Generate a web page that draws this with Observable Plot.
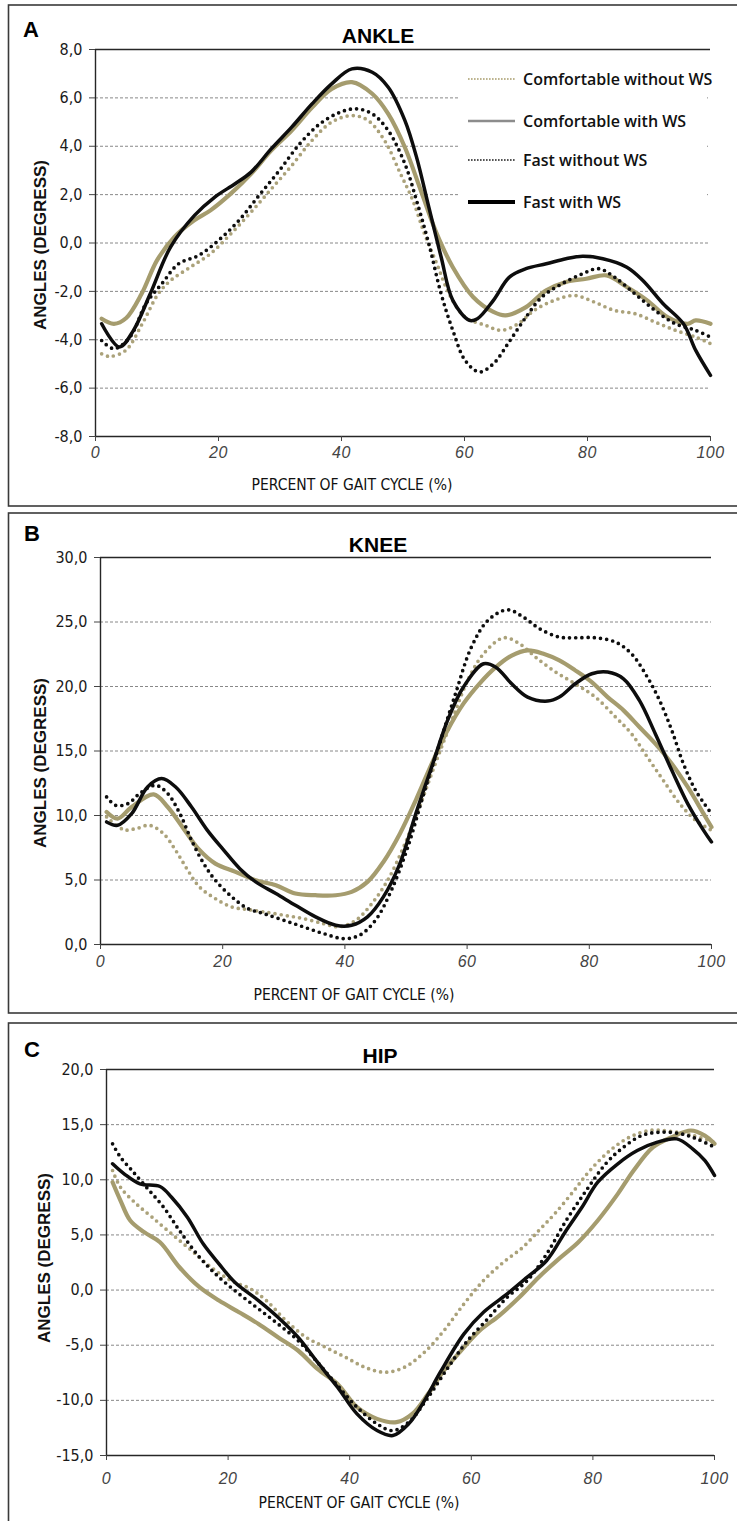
<!DOCTYPE html>
<html><head><meta charset="utf-8">
<script src="https://cdn.jsdelivr.net/npm/d3@7"></script>
<script src="https://cdn.jsdelivr.net/npm/@observablehq/plot@0.6"></script>
<style>
html,body{margin:0;padding:0;background:#fff;overflow:hidden;}
#page{position:relative;width:737px;height:1521px;overflow:hidden;}
#page svg.plotsvg{position:absolute;left:0;}
#overlay{position:absolute;left:0;top:0;pointer-events:none;}
.yt text{font-family:"Liberation Sans Narrow","Arial Narrow","DejaVu Sans Condensed",sans-serif;font-size:16px;fill:#1a1a1a;}
.xt text{font-family:"Liberation Sans",Arial,sans-serif;font-size:16px;font-style:italic;fill:#444;letter-spacing:0.5px;}
</style>
</head><body><div id="page"></div>
<script>
// ---------- DATA ----------
const seriesNames = ["Comfortable without WS","Comfortable with WS","Fast without WS","Fast with WS"];
const xTicks = [0,20,40,60,80,100];
const ankleTicks = [-8,-6,-4,-2,0,2,4,6,8];
const kneeTicks = [0,5,10,15,20,25,30];
const hipTicks = [-15,-10,-5,0,5,10,15,20];

const ankleComfWithout = [[1,-4.58],[2.3,-4.69],[4.9,-4.44],[7.6,-3.34],[10.2,-2.1],[12.2,-1.55],[15.4,-1.0],[18.7,-0.44],[22,0.38],[25.3,1.28],[28.6,2.24],[31.9,3.2],[35.2,4.24],[38.4,5.0],[41.7,5.27],[44.3,5.07],[47,4.24],[49.6,2.86],[51.6,1.76],[53.5,0.38],[55.5,-0.86],[57.5,-2.1],[60.1,-3.06],[63.4,-3.4],[66,-3.61],[68.7,-3.34],[71.3,-2.79],[74.6,-2.37],[77.9,-2.17],[81.1,-2.44],[84.4,-2.79],[87.7,-2.92],[91,-3.27],[94.3,-3.61],[97.6,-3.89],[100,-4.16]];
const ankleComfWith = [[1,-3.13],[3,-3.34],[5,-3.1],[7.5,-2.1],[10,-0.72],[12.8,0.24],[16,0.93],[18.7,1.35],[22,2.04],[25.3,2.86],[28.6,3.83],[31.9,4.65],[35.2,5.6],[38.4,6.37],[41.7,6.65],[45,6.17],[47.6,5.34],[50.3,3.96],[52.9,2.17],[55.5,0.38],[58.1,-1.0],[61.4,-2.23],[64.7,-2.85],[66.7,-2.99],[70,-2.65],[73.3,-1.96],[76.5,-1.61],[79.8,-1.48],[83.1,-1.34],[86.4,-1.82],[89.7,-2.37],[93,-3.06],[96.3,-3.34],[97.6,-3.2],[100,-3.34]];
const ankleFastWithout = [[1,-4.03],[3,-4.37],[5.6,-3.89],[8.2,-2.51],[10.8,-1.68],[13.5,-0.86],[16.8,-0.51],[20,0.11],[23.3,0.93],[26.6,1.97],[29.9,3.0],[33.2,4.1],[36.5,4.93],[39.8,5.41],[42.4,5.55],[45,5.34],[47.6,4.65],[50.3,3.28],[52.2,1.76],[54.2,-0.03],[56.2,-2.1],[58.1,-3.61],[60.1,-4.85],[62.4,-5.33],[64.7,-4.99],[67.4,-4.03],[70,-3.06],[72.6,-2.23],[75.9,-1.68],[79.2,-1.27],[81.8,-1.06],[84.4,-1.41],[87.7,-2.1],[91,-2.79],[94.3,-3.34],[97.6,-3.61],[100,-3.89]];
const ankleFastWith = [[1,-3.34],[3.9,-4.3],[6.2,-3.6],[8.9,-2.1],[12.2,-0.17],[16.1,1.14],[19.4,1.9],[22.7,2.45],[25.3,2.93],[28.6,3.9],[31.9,4.79],[35.2,5.75],[38.4,6.58],[41.7,7.2],[45,7.06],[47.6,6.44],[50.3,5.07],[52.2,3.55],[54.2,1.48],[56.2,-0.58],[58.1,-2.37],[60.8,-3.2],[62.1,-3.13],[64.7,-2.37],[67.3,-1.41],[70,-1.06],[73.3,-0.86],[76.5,-0.65],[79.2,-0.55],[82.5,-0.65],[86.4,-1.0],[89,-1.55],[92.3,-2.51],[95.6,-3.34],[97.6,-4.44],[100,-5.47]];

const kneeComfWithout = [[1,9.89],[3.8,8.9],[5.8,8.98],[8,9.24],[10.3,8.6],[12.3,7.3],[14.3,5.75],[16.2,4.46],[18.8,3.56],[21.5,2.91],[24.1,2.71],[26.7,2.53],[30,2.27],[33.2,2.01],[36.5,1.62],[39.1,1.37],[41.8,1.88],[44.4,3.17],[47,4.98],[49.6,7.56],[52.2,10.66],[54.8,14.02],[57.5,17.37],[60.1,20.47],[62.7,22.54],[66,23.78],[68.6,23.31],[71.2,22.28],[74.5,21.12],[77.7,20.21],[81,19.18],[84.3,17.63],[86.9,16.34],[89.5,14.53],[92.1,12.73],[94.8,10.92],[97.4,9.63],[100,8.85]];
const kneeComfWith = [[1,10.27],[2.8,9.76],[5.1,10.66],[8.7,11.64],[11,10.66],[13.6,8.98],[16,7.43],[18.8,6.27],[22.1,5.63],[25.4,4.98],[28.7,4.59],[31.9,3.95],[35.2,3.82],[38.5,3.82],[41.1,4.08],[43.7,4.85],[46.3,6.4],[49,8.59],[51.6,11.18],[54.2,14.0],[56.8,16.6],[59.4,18.67],[62,20.21],[64.7,21.5],[67.3,22.4],[69.9,22.8],[72.5,22.54],[75.1,22.02],[77.7,21.25],[80.4,20.34],[83,19.18],[85.6,18.15],[88.2,16.86],[90.8,15.57],[93.5,14.02],[96.1,12.21],[98.7,10.14],[100,9.11]];
const kneeFastWithout = [[1,11.44],[2.5,10.79],[4.5,10.92],[6.4,11.7],[9,12.34],[11,11.7],[13,10.14],[14.9,8.08],[16.9,6.27],[18.8,4.98],[21.5,3.69],[24.1,2.79],[26.7,2.4],[30,1.88],[33.2,1.37],[36.5,0.85],[39.8,0.46],[42.4,0.72],[45,1.88],[47.6,4.2],[50.3,7.56],[52.9,11.69],[55.5,15.57],[58.1,19.44],[60.7,23.05],[63.4,25.12],[66.6,25.95],[69.2,25.38],[71.9,24.47],[75.1,23.83],[77.7,23.78],[81,23.78],[84.3,23.44],[86.9,22.54],[89.5,20.73],[91.5,18.92],[93.5,16.6],[95.4,14.02],[97.4,11.95],[100,10.14]];
const kneeFastWith = [[1,9.5],[2.8,9.24],[5.1,10.14],[7.7,12.21],[10,12.86],[12.3,12.21],[14.9,10.66],[17.5,8.85],[20.2,7.3],[22.8,5.88],[25.4,4.85],[28.7,3.95],[31.9,3.04],[35.2,2.14],[38.5,1.49],[41.1,1.49],[43.7,2.14],[46.3,3.69],[49,6.27],[51.6,10.14],[54.2,13.76],[56.8,17.37],[59.4,19.96],[62.7,21.76],[64.7,21.5],[67.3,20.21],[69.9,19.18],[73.2,18.87],[75.1,19.18],[77.7,20.21],[80.4,20.99],[83,21.12],[85.6,20.6],[88.2,18.92],[90.8,16.34],[93.5,13.5],[96.1,10.92],[98.7,8.85],[100,7.95]];

const hipComfWithout = [[1,10.84],[2.3,9.33],[4.9,7.82],[7.5,6.61],[10.7,5.1],[14,3.58],[17.2,2.07],[20.5,0.86],[23.7,0.11],[26.3,-0.95],[29.5,-2.76],[32.8,-4.27],[36,-5.18],[39.3,-6.09],[42.5,-7.0],[45.8,-7.45],[49,-7.0],[52.3,-5.63],[55.5,-3.67],[58.8,-1.25],[62,0.86],[65.3,2.53],[68.5,3.89],[71.1,5.4],[73.7,6.91],[76.9,9.03],[79.5,10.84],[82.8,12.65],[86,13.86],[89.3,14.47],[92.5,14.41],[95.8,14.11],[100,13.41]];
const hipComfWith = [[1,9.78],[2.3,8.12],[3.9,6.31],[6.2,5.25],[8.8,4.34],[12,2.07],[15.3,0.26],[18.5,-0.95],[21.8,-2.01],[25,-3.07],[28.2,-4.27],[31.5,-5.48],[34.7,-7.15],[38,-8.51],[41.2,-10.62],[44.5,-11.68],[47.7,-11.98],[50.3,-11.23],[52.9,-9.41],[55.5,-7.3],[58.1,-5.63],[61.4,-3.67],[64.6,-2.31],[67.9,-0.65],[71.1,1.17],[74.4,2.83],[77.6,4.34],[80.8,6.31],[84.1,8.72],[86.7,10.84],[89.9,12.96],[93.2,13.92],[96.1,14.47],[98.4,14.01],[100,13.26]];
const hipFastWithout = [[1,13.26],[2.3,12.05],[4.2,10.84],[6.8,9.18],[9.4,7.51],[12,5.4],[15.3,2.98],[18.5,1.17],[21.8,-0.35],[25,-1.7],[28.2,-3.07],[31.5,-4.57],[34.7,-6.54],[38,-8.66],[41.2,-10.62],[44.5,-12.13],[47.1,-12.74],[49.7,-11.98],[52.9,-9.72],[56.2,-7.0],[59.4,-4.58],[62.7,-2.61],[65.9,-0.65],[69.2,0.86],[72.4,3.28],[75.6,6.31],[78.9,9.03],[82.1,11.45],[84.7,12.81],[88,14.01],[91.2,14.32],[94.5,14.17],[97.1,13.71],[100,12.96]];
const hipFastWith = [[1,11.45],[2.9,10.54],[5.5,9.63],[8.8,9.39],[10.7,8.42],[13.3,6.61],[15.9,4.19],[18.5,2.38],[21.1,0.71],[25,-0.95],[28.2,-2.46],[31.5,-4.27],[34.7,-6.54],[38,-8.81],[41.2,-11.23],[44.5,-12.74],[47.1,-13.19],[49.7,-12.13],[52.3,-10.02],[54.9,-7.45],[58.8,-3.97],[62,-2.01],[65.9,-0.35],[69.2,1.17],[72.4,2.68],[75.6,5.4],[78.2,7.51],[80.8,9.78],[84.1,11.45],[87.3,12.65],[90.6,13.41],[93.8,13.71],[96.4,12.81],[98.4,11.75],[100,10.39]];

// ---------- STYLE ----------
const TAN = "#a59c6e", TAN_DOT = "#aba27a", BLK = "#0d0d0d";
const styles = [
  {stroke: TAN_DOT, strokeWidth: 3.7, strokeDasharray: "0,6.2"},
  {stroke: TAN, strokeWidth: 4.2},
  {stroke: BLK, strokeWidth: 3.7, strokeDasharray: "0,6.2"},
  {stroke: BLK, strokeWidth: 3.5}
];
const fmt = d => d.toFixed(1).replace(".", ",");

function panel(series, yTicks, top, height, mT, mB, mL, mR, pad) {
  const ymin = d3.min(yTicks), ymax = d3.max(yTicks);
  const lines = series.map((s, i) => Plot.line(s.map(([x, y]) => ({x, y, name: seriesNames[i]})),
    {x: "x", y: "y", curve: "catmull-rom", strokeLinecap: "round", strokeLinejoin: "round", ...styles[i]}));
  const svg = Plot.plot({
    width: 737, height, marginTop: mT, marginBottom: mB, marginLeft: mL, marginRight: mR,
    style: {background: "transparent", overflow: "visible"},
    x: {domain: [0, 100], label: null},
    y: {domain: [ymin, ymax], label: null},
    marks: [
      Plot.ruleY(yTicks.filter(v => v !== ymin && v !== ymax), {stroke: "#888", strokeWidth: 1, strokeDasharray: "3,2"}),
      Plot.ruleY([ymax], {stroke: "#262626", strokeWidth: 1.4}),
      Plot.ruleY([ymin], {stroke: "#262626", strokeWidth: 1.4}),
      Plot.ruleX([0], {stroke: "#262626", strokeWidth: 1.4}),
      Plot.axisY({ticks: yTicks, tickFormat: fmt, tickSize: 6, tickPadding: 7, stroke: "#444", className: "yt", fontSize: 16}),
      Plot.axisX({ticks: xTicks, tickFormat: d => String(d), tickSize: 5, tickPadding: pad, stroke: "#444", className: "xt", fontSize: 16}),
      ...lines
    ]
  });
  svg.classList.add("plotsvg");
  svg.style.top = top + "px";
  return svg;
}

const page = document.getElementById("page");
page.appendChild(panel([ankleComfWithout, ankleComfWith, ankleFastWithout, ankleFastWith], ankleTicks, 0, 510, 49, 74, 95, 27, 5));
page.appendChild(panel([kneeComfWithout, kneeComfWith, kneeFastWithout, kneeFastWith], kneeTicks, 510, 510, 47, 76, 100, 26, 6));
page.appendChild(panel([hipComfWithout, hipComfWith, hipFastWithout, hipFastWith], hipTicks, 1020, 501, 49, 66, 106, 23, 12));

// ---------- OVERLAY: frames, titles, axis labels, legend ----------
const ov = d3.select(page).append("svg").attr("id", "overlay").attr("width", 737).attr("height", 1521);
const frames = [[5, 506], [513, 1013], [1023, 1540]];
frames.forEach(([y0, y1]) => ov.append("rect").attr("x", 8.5).attr("y", y0).attr("width", 760).attr("height", y1 - y0)
  .attr("fill", "none").attr("stroke", "#3a3a3a").attr("stroke-width", 1.6));
const letters = [["A", 23, 37], ["B", 24, 541], ["C", 24, 1057]];
letters.forEach(([t, x, y]) => ov.append("text").attr("x", x).attr("y", y).text(t)
  .attr("font-family", "Liberation Sans, Arial, sans-serif").attr("font-weight", "bold").attr("font-size", 22));
const titles = [["ANKLE", 378, 43], ["KNEE", 378, 552], ["HIP", 380, 1063]];
titles.forEach(([t, x, y]) => ov.append("text").attr("x", x).attr("y", y).text(t).attr("text-anchor", "middle")
  .attr("font-family", "Liberation Sans, Arial, sans-serif").attr("font-weight", "bold").attr("font-size", 21));
const xlabs = [[352, 485], [354, 995], [359, 1503]];
xlabs.forEach(([x, y]) => ov.append("text").attr("x", x).attr("y", y).attr("dy", "0.35em").attr("text-anchor", "middle")
  .text("PERCENT OF GAIT CYCLE (%)").attr("fill", "#111")
  .attr("font-family", "Liberation Sans Narrow, Arial Narrow, DejaVu Sans Condensed, sans-serif").attr("font-size", 15.5));
const ylabs = [[40, 245], [40, 763], [44, 1258]];
ylabs.forEach(([x, y]) => ov.append("text").attr("transform", `translate(${x},${y}) rotate(-90)`).attr("dy", "0.35em")
  .attr("text-anchor", "middle").text("ANGLES (DEGRESS)").attr("fill", "#111")
  .attr("font-family", "Liberation Sans, Arial, sans-serif").attr("font-weight", "bold").attr("font-size", 17));

// legend
ov.append("rect").attr("x", 458).attr("y", 60).attr("width", 249).attr("height", 156).attr("fill", "#fff");
const legStyles = [
  {stroke: "#bdb48f", w: 2, dash: "1.6,1.4"},
  {stroke: "#8c8c8c", w: 2.6, dash: null},
  {stroke: "#555", w: 2, dash: "1.6,1.4"},
  {stroke: "#000", w: 3.8, dash: null}
];
const legY = [79, 121, 160, 202];
seriesNames.forEach((n, i) => {
  const s = legStyles[i];
  const l = ov.append("line").attr("x1", 468).attr("x2", 515).attr("y1", legY[i]).attr("y2", legY[i])
    .attr("stroke", s.stroke).attr("stroke-width", s.w);
  if (s.dash) l.attr("stroke-dasharray", s.dash);
  ov.append("text").attr("x", 523).attr("y", legY[i]).attr("dy", "0.35em").text(n).attr("fill", "#111")
    .attr("font-family", "Open Sans, sans-serif").attr("font-weight", 600).attr("font-size", 16);
});
</script></body></html>
